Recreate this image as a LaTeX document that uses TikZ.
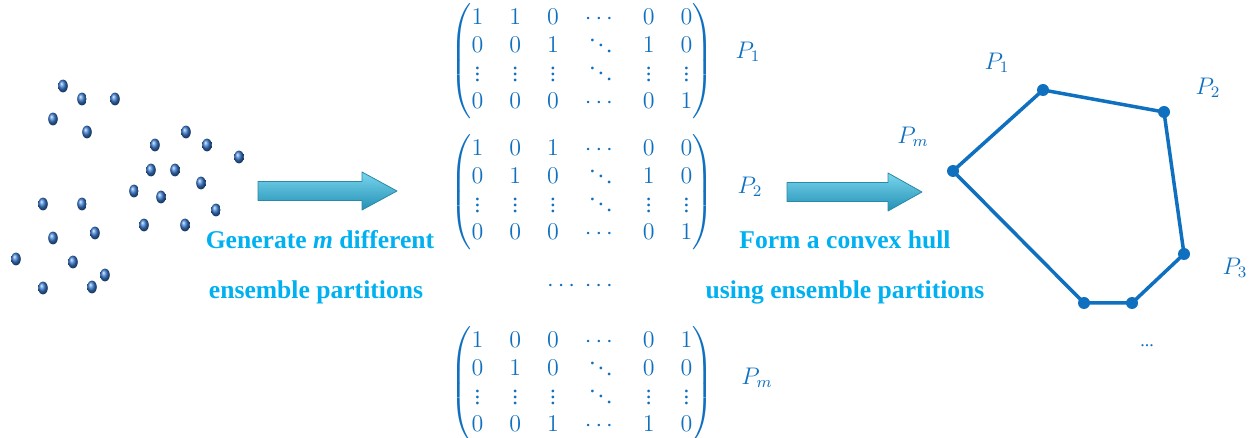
\documentclass[tikz,border=0pt]{standalone}
\usepackage{amsmath}
\usepackage{fontspec}
\setmainfont{Liberation Serif}
\setlength\arraycolsep{6.5pt}
\newcommand\vdt{\vcenter{\baselineskip3pt\lineskiplimit0pt\hbox{.}\hbox{.}\hbox{.}}}
\newcommand\ddt{\mathinner{\mkern1mu\raise5.6pt\hbox{.}\mkern2mu\raise2.8pt\hbox{.}\mkern2mu\hbox{.}\mkern1mu}}
\definecolor{hullblue}{HTML}{1070C0}
\definecolor{textcyan}{HTML}{00B0F0}
\definecolor{dotblue}{HTML}{3A7CD2}
\definecolor{arrowtop}{HTML}{7AD6EE}
\definecolor{arrowmid}{HTML}{3CB6D8}
\definecolor{arrowbot}{HTML}{2390B4}
\definecolor{arrowedge}{HTML}{2A89A8}
\begin{document}
\begin{tikzpicture}[x=0.5pt,y=-0.5pt,line join=round,line cap=round,
  bluetext/.style={text=textcyan,font=\fontsize{12.8}{15}\selectfont\bfseries},
  mat/.style={text=hullblue,font=\fontsize{11.5}{14}\selectfont},
  lab/.style={text=hullblue,font=\fontsize{11.5}{14}\selectfont}]
\useasboundingbox (0,0) rectangle (1260,438);
% point cloud
\foreach \x/\y in {63/86,82/99,115/99,53/119,87/132,186/132,155/145,207/145,239/157,
  151/170,175/170,201/183,134/191,161/197,216/210,43/204,82/204,53/238,95/233,
  144/225,185/225,16/259,73/262,105/275,43/288,92/287}
\shade[ball color=dotblue](\x,\y)ellipse(2.4pt and 3.2pt);
% fat arrows
\foreach \a/\b/\c/\y in {258/362/397/191,787/888/922/192}
\shade[top color=arrowtop,middle color=arrowmid,bottom color=arrowbot,draw=arrowedge,line width=0.4pt]
(\a,\y-9.5)--(\b,\y-9.5)--(\b,\y-19)--(\c,\y)--(\b,\y+19)--(\b,\y+9.5)--(\a,\y+9.5)--cycle;
\node[bluetext] (gen1) at (320,240) {Generate \textit{m} different};
\node[bluetext] (gen2) at (316,292) {ensemble partitions};
\node[bluetext] (form1) at (845,240) {Form a convex hull};
\node[bluetext] (form2) at (845,292) {using ensemble partitions};
% partitions
\node[mat] (M1) at (582,61) {$\begin{pmatrix}1&1&0&\cdots&0&0\\0&0&1&\ddt&1&0\\
  \vdt&\vdt&\vdt&\ddt&\vdt&\vdt\\0&0&0&\cdots&0&1\end{pmatrix}$};
\node[mat] (M2) at (582,192) {$\begin{pmatrix}1&0&1&\cdots&0&0\\0&1&0&\ddt&1&0\\
  \vdt&\vdt&\vdt&\ddt&\vdt&\vdt\\0&0&0&\cdots&0&1\end{pmatrix}$};
\node[mat] (dots) at (582,286) {$\cdots\ \cdots$};
\node[mat] (M3) at (582,384) {$\begin{pmatrix}1&0&0&\cdots&0&1\\0&1&0&\ddt&0&0\\
  \vdt&\vdt&\vdt&\ddt&\vdt&\vdt\\0&0&1&\cdots&1&0\end{pmatrix}$};
\node[lab] (L1) at (748,52) {$P_1$};
\node[lab] (L2) at (750,187) {$P_2$};
\node[lab] (Lm) at (757,378) {$P_m$};
% convex hull
\path
(1043,90) coordinate (A)
(1164,112) coordinate (B)
(1184,254) coordinate (C)
(1132,303) coordinate (D)
(1084,303) coordinate (E)
(953,171) coordinate (F)
;
\draw[hullblue,line width=1.75pt] (A)--(B)--(C)--(D)--(E)--(F)--cycle;
\foreach \p in {A,...,F} \fill[hullblue](\p)circle(3pt);
\foreach \n/\x/\y/\t in {h1/997/63/P_1,h2/1208/88/P_2,hm/913/137/P_m,h3/1235/268/P_3}
\node[lab] (\n) at (\x,\y) {$\t$};
\node[lab,font=\small] (hdots) at (1147,346) {...};
\end{tikzpicture}
\end{document}
